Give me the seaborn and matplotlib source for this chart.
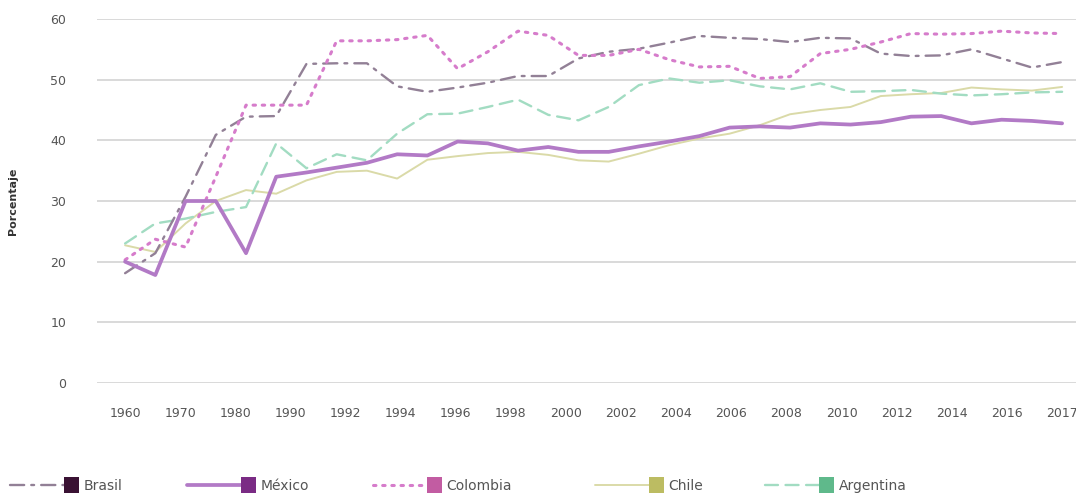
import numpy as np
import pandas as pd
import matplotlib
matplotlib.use("Agg")
import matplotlib.pyplot as plt
import seaborn as sns
from matplotlib.lines import Line2D
from matplotlib.patches import Rectangle
from matplotlib.legend_handler import HandlerBase

# data
year_labels = ["1960", "1970", "1980", "1990", "1992", "1994", "1996", "1998", "2000",
               "2002", "2004", "2006", "2008", "2010", "2012", "2014", "2016", "2017"]

brasil = [18.1, 21.4, 30.7, 40.9, 43.9, 44.0, 52.6, 52.7, 52.7, 48.9, 48.0, 48.7, 49.5, 50.6, 50.6, 53.5,
          54.6, 55.1, 56.1, 57.2, 56.9, 56.7, 56.2, 56.9, 56.8, 54.3, 53.9, 54.0, 55.0, 53.5, 52.0, 52.9]
mexico = [20.0, 17.8, 30.0, 30.0, 21.4, 34.0, 34.7, 35.5, 36.3, 37.7, 37.5, 39.8, 39.5, 38.3, 38.9, 38.1,
          38.1, 39.0, 39.8, 40.7, 42.1, 42.3, 42.1, 42.8, 42.6, 43.0, 43.9, 44.0, 42.8, 43.4, 43.2, 42.8]
colombia = [20.3, 23.7, 22.4, 34.0, 45.8, 45.8, 45.8, 56.4, 56.4, 56.6, 57.3, 51.8, 54.6, 58.0, 57.3, 54.0,
            54.0, 55.0, 53.3, 52.1, 52.2, 50.2, 50.5, 54.3, 55.0, 56.2, 57.6, 57.5, 57.6, 58.0, 57.7, 57.6]
chile = [22.7, 21.6, 26.3, 30.0, 31.8, 31.2, 33.4, 34.8, 35.0, 33.7, 36.8, 37.4, 37.9, 38.1, 37.6, 36.7,
         36.5, 37.8, 39.2, 40.3, 41.1, 42.5, 44.3, 45.0, 45.5, 47.3, 47.6, 47.8, 48.7, 48.4, 48.2, 48.8]
argentina = [23.0, 26.3, 27.1, 28.2, 29.0, 39.5, 35.4, 37.7, 36.7, 41.1, 44.3, 44.4, 45.5, 46.7, 44.2, 43.3,
             45.5, 49.1, 50.2, 49.5, 49.9, 48.9, 48.4, 49.4, 48.0, 48.1, 48.3, 47.7, 47.4, 47.6, 47.9, 48.0]

series = {"Brasil": brasil, "México": mexico, "Colombia": colombia, "Chile": chile, "Argentina": argentina}

# style per country: line colour, legend square colour, width, dash pattern
styles = {
    "Brasil": dict(color="#928096", square="#3a1233", lw=1.7, ls=(0, (6, 3, 1.2, 3))),
    "México": dict(color="#b27ac6", square="#7a2b84", lw=2.7, ls="-"),
    "Colombia": dict(color="#d67ccb", square="#c25ca2", lw=2.2, ls=(0, (0.8, 2.2))),
    "Chile": dict(color="#dadaa8", square="#bcbc62", lw=1.4, ls="-"),
    "Argentina": dict(color="#a2dcc2", square="#5fb98b", lw=1.7, ls=(0, (5.5, 3.2))),
}

frames = []
for name, vals in series.items():
    frames.append(pd.DataFrame({"periodo": np.arange(len(vals)), "valor": vals, "pais": name}))
df = pd.concat(frames, ignore_index=True)


class LinePatchHandler(HandlerBase):
    def __init__(self, square_color, **kw):
        super().__init__(**kw)
        self.square_color = square_color

    def create_artists(self, legend, orig_handle, xdescent, ydescent, width, height, fontsize, trans):
        size = height * 1.55
        line_w = width - size
        y = height / 2 - ydescent
        ln = Line2D([-xdescent, -xdescent + line_w], [y, y])
        ln.update_from(orig_handle)
        ln.set_transform(trans)
        sq = Rectangle((-xdescent + line_w, y - size / 2), size, size,
                       facecolor=self.square_color, edgecolor="none", transform=trans)
        return [ln, sq]


sns.set_theme(style="white")
plt.rcParams["font.family"] = ["DejaVu Sans"]

fig = plt.figure(figsize=(10.76, 4.93), dpi=100)
ax = fig.add_axes([97 / 1076, 1 - 383 / 493, 1 - 97 / 1076, (383 - 19) / 493])

order = ["Chile", "Argentina", "Brasil", "Colombia", "México"]
for name in order:
    st = styles[name]
    sub = df[df["pais"] == name]
    sns.lineplot(data=sub, x="periodo", y="valor", ax=ax, color=st["color"], linewidth=st["lw"],
                 linestyle=st["ls"], legend=False, dash_capstyle="round", solid_joinstyle="round")

n = len(mexico)
ax.set_xlim(-0.93, n - 1 + 0.46)
ax.set_ylim(0, 60)
ax.set_yticks(range(0, 61, 10))
ax.set_xticks(np.linspace(0, n - 1, len(year_labels)))
ax.set_xticklabels(year_labels)
ax.grid(axis="y", color="#d9d9d9", linewidth=1.4)
ax.grid(axis="x", visible=False)
for sp in ax.spines.values():
    sp.set_visible(False)
ax.tick_params(axis="both", length=0, labelsize=9, colors="#555555")
ax.tick_params(axis="x", pad=17)
ax.tick_params(axis="y", pad=22)
ax.set_xlabel("")
ax.set_ylabel("Porcentaje", fontsize=8, fontweight="bold", color="#333333")
ax.yaxis.set_label_coords((18 - 97) / 979, 0.5)

# one legend per entry, placed like the reference
legend_x = {"Brasil": 10, "México": 187, "Colombia": 373, "Chile": 595, "Argentina": 765}
for name, px in legend_x.items():
    st = styles[name]
    h = Line2D([], [], color=st["color"], linewidth=st["lw"], linestyle=st["ls"], dash_capstyle="round")
    fig.legend([h], [name], handler_map={h: LinePatchHandler(st["square"])}, loc="center left",
               bbox_to_anchor=(px / 1076, 1 - 486 / 493), frameon=False,
               fontsize=10, handlelength=5.0, handleheight=0.75, handletextpad=0.3,
               borderpad=0, borderaxespad=0, labelcolor="#555555")

fig.savefig("out.png", dpi=100)
